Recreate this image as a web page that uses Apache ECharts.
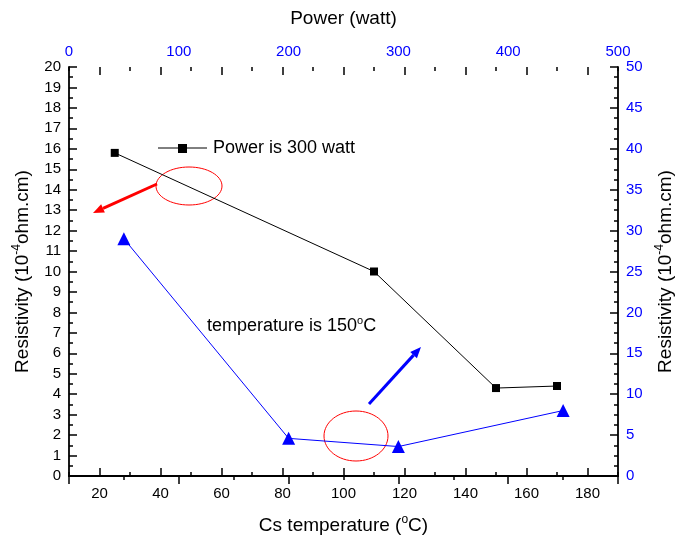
<!DOCTYPE html>
<html>
<head>
<meta charset="utf-8">
<script src="https://cdn.jsdelivr.net/npm/echarts@6/dist/echarts.min.js"></script>
<style>
html, body { margin: 0; padding: 0; background: #fff; }
#main { width: 675px; height: 541px; }
</style>
</head>
<body>
<div id="main"></div>
<script>
// black series: power fixed at 300 W, x = Cs temperature (bottom axis), y = left axis
var tempC = [25, 110, 150, 170];
var resTemp = [15.8, 10.0, 4.3, 4.4];
// blue series: temperature fixed at 150 C, x = power (top axis), y = right axis
var powerW = [50, 200, 300, 450];
var resPower = [29.0, 4.6, 3.6, 8.0];

// tick labels
var tempTicks = [20, 40, 60, 80, 100, 120, 140, 160, 180];

var FONT = 'Liberation Sans, Arial, sans-serif';
var BLUE = '#0000ff';

var myChart = echarts.init(document.getElementById('main'));

function arrow(x1, y1, x2, y2, color) {
  var a = Math.atan2(y2 - y1, x2 - x1);
  var L = 11, W = 4.5;
  var bx = x2 - L * Math.cos(a), by = y2 - L * Math.sin(a);
  var px = -Math.sin(a) * W, py = Math.cos(a) * W;
  return {
    type: 'group',
    children: [
      { type: 'line', shape: { x1: x1, y1: y1, x2: bx, y2: by },
        style: { stroke: color, lineWidth: 3 } },
      { type: 'polygon', shape: { points: [[x2, y2], [bx + px, by + py], [bx - px, by - py]] },
        style: { fill: color } }
    ]
  };
}

var tickStyle = { color: '#000', width: 1.5 };
var axisLineStyle = { color: '#000', width: 1.8 };
// name text with superscript pieces
var nameRich = {
  n: { fontFamily: FONT, fontSize: 19, color: '#000', lineHeight: 24 },
  s: { fontFamily: FONT, fontSize: 12, color: '#000', verticalAlign: 'top', lineHeight: 24 }
};

var option = {
  animation: false,
  grid: { left: 69, right: 57, top: 67, bottom: 65, containLabel: false, outerBoundsMode: 'none' },
  xAxis: [
    { // bottom: temperature, major ticks + labels
      type: 'value', position: 'bottom', min: 10, max: 190,
      name: '{n|Cs temperature (}{s|o}{n|C)}', nameLocation: 'middle', nameGap: 38,
      nameTextStyle: { fontFamily: FONT, fontSize: 19, color: '#000', rich: nameRich },
      axisLine: { show: true, lineStyle: axisLineStyle },
      axisTick: { show: true, inside: true, length: 8, lineStyle: tickStyle, customValues: tempTicks },
      axisLabel: { fontFamily: FONT, fontSize: 15, color: '#000', margin: 10, customValues: tempTicks },
      splitLine: { show: false }
    },
    { // top: power
      type: 'value', position: 'top', min: 0, max: 500, interval: 100,
      name: 'Power (watt)', nameLocation: 'middle', nameGap: 39,
      nameTextStyle: { fontFamily: FONT, fontSize: 19, color: '#000' },
      axisLine: { show: true, lineStyle: axisLineStyle },
      axisTick: { show: true, inside: true, length: 8, lineStyle: tickStyle },
      minorTick: { show: true, splitNumber: 2, length: 4, lineStyle: tickStyle },
      axisLabel: { fontFamily: FONT, fontSize: 15, color: BLUE, margin: 8 },
      splitLine: { show: false }, minorSplitLine: { show: false }
    },
    { // bottom minor ticks
      type: 'value', position: 'bottom', min: 10, max: 190, interval: 10,
      axisLine: { show: false }, axisLabel: { show: false }, splitLine: { show: false },
      axisTick: { show: true, inside: true, length: 4, lineStyle: tickStyle }
    },
    { // top mirror of temperature major ticks
      type: 'value', position: 'top', min: 10, max: 190,
      axisLine: { show: false }, axisLabel: { show: false, customValues: tempTicks }, splitLine: { show: false },
      axisTick: { show: true, inside: true, length: 8, lineStyle: tickStyle, customValues: tempTicks }
    },
    { // top mirror of temperature minor ticks
      type: 'value', position: 'top', min: 10, max: 190, interval: 10,
      axisLine: { show: false }, axisLabel: { show: false }, splitLine: { show: false },
      axisTick: { show: true, inside: true, length: 4, lineStyle: tickStyle }
    }
  ],
  yAxis: [
    {
      type: 'value', position: 'left', min: 0, max: 20, interval: 1,
      name: '{n|Resistivity (10}{s|-4}{n|ohm.cm)}', nameLocation: 'middle', nameGap: 34,
      nameRotate: 90,
      nameTextStyle: { fontFamily: FONT, fontSize: 19, color: '#000', rich: nameRich },
      axisLine: { show: true, lineStyle: axisLineStyle },
      axisTick: { show: true, inside: true, length: 8, lineStyle: tickStyle },
      minorTick: { show: true, splitNumber: 2, length: 4, lineStyle: tickStyle },
      axisLabel: { fontFamily: FONT, fontSize: 15, color: '#000', margin: 8 },
      splitLine: { show: false }, minorSplitLine: { show: false }
    },
    {
      type: 'value', position: 'right', min: 0, max: 50, interval: 5,
      name: '{n|Resistivity (10}{s|-4}{n|ohm.cm)}', nameLocation: 'middle', nameGap: 35,
      nameRotate: 90,
      nameTextStyle: { fontFamily: FONT, fontSize: 19, color: '#000', rich: nameRich },
      axisLine: { show: true, lineStyle: axisLineStyle },
      axisTick: { show: true, inside: true, length: 8, lineStyle: tickStyle },
      minorTick: { show: true, splitNumber: 4, length: 4, lineStyle: tickStyle },
      axisLabel: { fontFamily: FONT, fontSize: 15, color: BLUE, margin: 8 },
      splitLine: { show: false }, minorSplitLine: { show: false }
    }
  ],
  series: [
    {
      name: 'Power is 300 watt',
      type: 'line', xAxisIndex: 0, yAxisIndex: 0,
      data: tempC.map(function (t, i) { return [t, resTemp[i]]; }),
      symbol: 'rect', symbolSize: 8,
      lineStyle: { color: '#000', width: 1 },
      itemStyle: { color: '#000' }
    },
    {
      name: 'temperature is 150°C',
      type: 'line', xAxisIndex: 1, yAxisIndex: 1,
      data: powerW.map(function (p, i) { return [p, resPower[i]]; }),
      symbol: 'triangle', symbolSize: 13,
      lineStyle: { color: BLUE, width: 1 },
      itemStyle: { color: BLUE }
    }
  ],
  graphic: [
    // legend-like label for the black series
    { type: 'line', shape: { x1: 158, y1: 148, x2: 207, y2: 148 }, style: { stroke: '#000', lineWidth: 1 } },
    { type: 'rect', shape: { x: 178, y: 144, width: 9, height: 9 }, style: { fill: '#000' } },
    { type: 'text', x: 213, y: 148,
      style: { text: 'Power is 300 watt', font: '18px ' + FONT, fill: '#000', verticalAlign: 'middle' } },
    // label for the blue series
    { type: 'text', x: 207, y: 326,
      style: {
        text: '{n|temperature is 150}{s|o}{n|C}', verticalAlign: 'middle',
        rich: {
          n: { font: '18px ' + FONT, fill: '#000', lineHeight: 22 },
          s: { font: '11px ' + FONT, fill: '#000', verticalAlign: 'top', lineHeight: 22 }
        }
      } },
    // red ellipses
    { type: 'ellipse', shape: { cx: 189, cy: 186, rx: 33, ry: 19 },
      style: { fill: null, stroke: '#ff0000', lineWidth: 1 } },
    { type: 'ellipse', shape: { cx: 356, cy: 436, rx: 32, ry: 25 },
      style: { fill: null, stroke: '#ff0000', lineWidth: 1 } },
    // arrows pointing to the axes used by each series
    arrow(157, 184, 93, 213, '#ff0000'),
    arrow(369, 404, 421, 347, BLUE)
  ]
};

myChart.setOption(option);
window.onresize = function () { myChart.resize(); };
</script>
</body>
</html>
